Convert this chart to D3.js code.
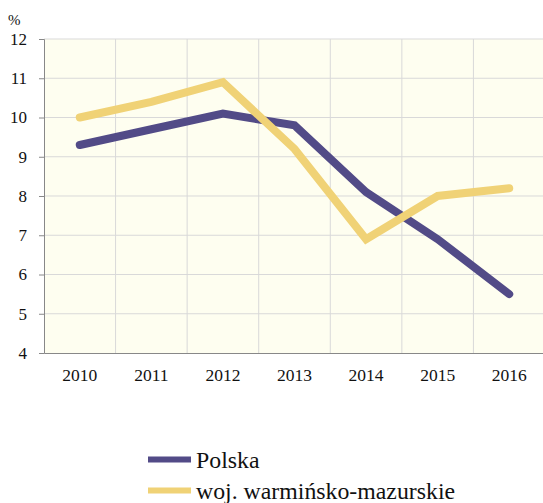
<!DOCTYPE html>
<html><head><meta charset="utf-8">
<script src="https://cdn.jsdelivr.net/npm/d3@7"></script>
<style>body{margin:0;background:#fff}svg{display:block}text{font-family:"Liberation Serif","Times New Roman",serif;fill:#111}</style>
</head><body><svg id="c" width="543" height="503"></svg>
<script>
const years = ["2010","2011","2012","2013","2014","2015","2016"];
const polska = [9.3, 9.7, 10.1, 9.8, 8.1, 6.9, 5.5];
const warminsko = [10.0, 10.4, 10.9, 9.2, 6.9, 8.0, 8.2];
const yTicks = [4,5,6,7,8,9,10,11,12];
const seriesNames = ["Polska","woj. warmińsko-mazurskie"];
const colors = ["#524b87","#f0d276"];

const svg = d3.select("#c");
const L=44, R=545, T=39, B=353;
const x = d3.scaleBand().domain(years).range([L,R]);
const y = d3.scaleLinear().domain([4,12]).range([B,T]);

svg.append("rect").attr("x",L).attr("y",T).attr("width",R-L).attr("height",B-T).attr("fill","#fefef0");
// grid
svg.append("g").selectAll("line").data(yTicks.slice(1)).join("line")
  .attr("x1",L).attr("x2",R).attr("y1",d=>y(d)).attr("y2",d=>y(d)).attr("stroke","#d9d9d9").attr("stroke-width",1);
svg.append("g").selectAll("line").data(years.slice(1)).join("line")
  .attr("x1",d=>x(d)).attr("x2",d=>x(d)).attr("y1",T).attr("y2",B).attr("stroke","#d9d9d9").attr("stroke-width",1);

// y axis
const ya = svg.append("g").attr("transform",`translate(${L},0)`).call(d3.axisLeft(y).tickValues(yTicks).tickSize(5).tickPadding(12));
ya.select(".domain").attr("stroke","#888");
ya.selectAll(".tick line").attr("stroke","#888");
ya.selectAll("text").style("font-size","17px").style("font-family","'Liberation Serif',serif").attr("fill","#111");
// x axis
const xa = svg.append("g").attr("transform",`translate(0,${B})`).call(d3.axisBottom(x).tickSize(0).tickPadding(16));
xa.select(".domain").attr("stroke","#888");
xa.selectAll("text").style("font-size","17.5px").style("font-family","'Liberation Serif',serif").attr("fill","#111");

svg.append("text").attr("x",8).attr("y",25).style("font-size","15px").text("%");

const line = d3.line().x((d,i)=>x(years[i])+x.bandwidth()/2).y(d=>y(d));
[polska, warminsko].forEach((s,k)=>{
  svg.append("path").datum(s).attr("d",line).attr("fill","none").attr("stroke",colors[k])
    .attr("stroke-width",8).attr("stroke-linecap","round").attr("stroke-linejoin","miter");
});
// legend
seriesNames.forEach((n,k)=>{
  const ly = 459.5 + k*31;
  svg.append("line").attr("x1",148).attr("x2",191).attr("y1",ly).attr("y2",ly).attr("stroke",colors[k]).attr("stroke-width",6);
  svg.append("text").attr("x",196).attr("y",ly+8).style("font-size","23.8px").text(n);
});
</script></body></html>
